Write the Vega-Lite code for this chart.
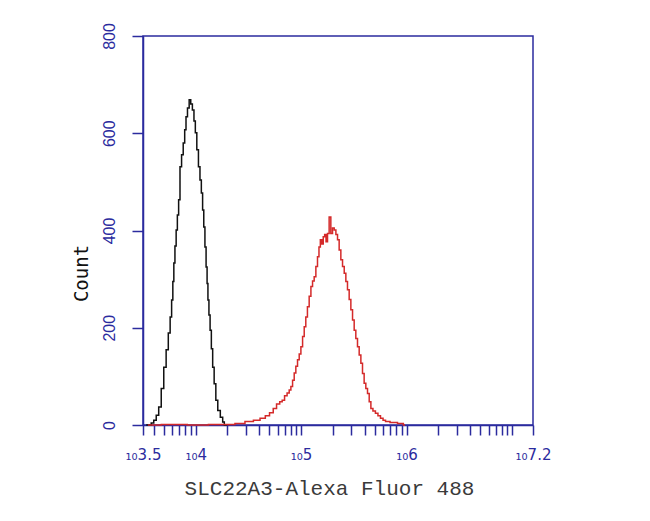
{
  "$schema": "https://vega.github.io/schema/vega-lite/v6.json",
  "width": 390,
  "height": 389,
  "autosize": {"type": "none"},
  "padding": {"left": 143, "top": 36, "right": 117, "bottom": 96},
  "background": "white",
  "config": {"view": {"stroke": "#2b2b9e", "strokeWidth": 1.5}},
  "data": {"values": [
    {"s": "a", "x": 3.53, "c": 0}, {"s": "a", "x": 3.566, "c": 0}, {"s": "a", "x": 3.59, "c": 4}, {"s": "a", "x": 3.614, "c": 10},
    {"s": "a", "x": 3.637, "c": 20}, {"s": "a", "x": 3.661, "c": 37}, {"s": "a", "x": 3.685, "c": 75}, {"s": "a", "x": 3.709, "c": 119},
    {"s": "a", "x": 3.73, "c": 155}, {"s": "a", "x": 3.75, "c": 189}, {"s": "a", "x": 3.765, "c": 222}, {"s": "a", "x": 3.778, "c": 257},
    {"s": "a", "x": 3.788, "c": 295}, {"s": "a", "x": 3.797, "c": 333}, {"s": "a", "x": 3.809, "c": 368}, {"s": "a", "x": 3.82, "c": 401},
    {"s": "a", "x": 3.832, "c": 432}, {"s": "a", "x": 3.844, "c": 463}, {"s": "a", "x": 3.858, "c": 531}, {"s": "a", "x": 3.874, "c": 556},
    {"s": "a", "x": 3.889, "c": 580}, {"s": "a", "x": 3.902, "c": 607}, {"s": "a", "x": 3.914, "c": 634}, {"s": "a", "x": 3.93, "c": 652},
    {"s": "a", "x": 3.946, "c": 669}, {"s": "a", "x": 3.96, "c": 660}, {"s": "a", "x": 3.977, "c": 648}, {"s": "a", "x": 3.99, "c": 625},
    {"s": "a", "x": 4.003, "c": 601}, {"s": "a", "x": 4.018, "c": 566}, {"s": "a", "x": 4.034, "c": 531}, {"s": "a", "x": 4.047, "c": 504},
    {"s": "a", "x": 4.06, "c": 477}, {"s": "a", "x": 4.071, "c": 442}, {"s": "a", "x": 4.082, "c": 407}, {"s": "a", "x": 4.093, "c": 366},
    {"s": "a", "x": 4.104, "c": 325}, {"s": "a", "x": 4.112, "c": 291}, {"s": "a", "x": 4.12, "c": 257}, {"s": "a", "x": 4.131, "c": 226},
    {"s": "a", "x": 4.142, "c": 195}, {"s": "a", "x": 4.155, "c": 157}, {"s": "a", "x": 4.167, "c": 119}, {"s": "a", "x": 4.183, "c": 85},
    {"s": "a", "x": 4.199, "c": 51}, {"s": "a", "x": 4.22, "c": 30}, {"s": "a", "x": 4.247, "c": 16}, {"s": "a", "x": 4.265, "c": 6},
    {"s": "a", "x": 4.278, "c": 0}, {"s": "a", "x": 4.3, "c": 0},
    {"s": "b", "x": 3.547, "c": 0}, {"s": "b", "x": 3.8, "c": 1}, {"s": "b", "x": 4.041, "c": 0}, {"s": "b", "x": 4.2, "c": 1},
    {"s": "b", "x": 4.325, "c": 1}, {"s": "b", "x": 4.42, "c": 3}, {"s": "b", "x": 4.515, "c": 7}, {"s": "b", "x": 4.58, "c": 10},
    {"s": "b", "x": 4.641, "c": 14}, {"s": "b", "x": 4.68, "c": 19}, {"s": "b", "x": 4.721, "c": 25}, {"s": "b", "x": 4.75, "c": 34},
    {"s": "b", "x": 4.784, "c": 43}, {"s": "b", "x": 4.81, "c": 48}, {"s": "b", "x": 4.831, "c": 51}, {"s": "b", "x": 4.855, "c": 60},
    {"s": "b", "x": 4.879, "c": 66}, {"s": "b", "x": 4.895, "c": 72}, {"s": "b", "x": 4.911, "c": 79}, {"s": "b", "x": 4.927, "c": 92},
    {"s": "b", "x": 4.942, "c": 107}, {"s": "b", "x": 4.958, "c": 121}, {"s": "b", "x": 4.974, "c": 134}, {"s": "b", "x": 4.99, "c": 146},
    {"s": "b", "x": 5.006, "c": 161}, {"s": "b", "x": 5.022, "c": 182}, {"s": "b", "x": 5.037, "c": 202}, {"s": "b", "x": 5.052, "c": 222},
    {"s": "b", "x": 5.068, "c": 243}, {"s": "b", "x": 5.085, "c": 265}, {"s": "b", "x": 5.101, "c": 285}, {"s": "b", "x": 5.116, "c": 296},
    {"s": "b", "x": 5.132, "c": 305}, {"s": "b", "x": 5.148, "c": 326}, {"s": "b", "x": 5.163, "c": 346}, {"s": "b", "x": 5.176, "c": 366},
    {"s": "b", "x": 5.189, "c": 381}, {"s": "b", "x": 5.203, "c": 372}, {"s": "b", "x": 5.217, "c": 387}, {"s": "b", "x": 5.23, "c": 392},
    {"s": "b", "x": 5.243, "c": 377}, {"s": "b", "x": 5.258, "c": 394}, {"s": "b", "x": 5.274, "c": 428}, {"s": "b", "x": 5.29, "c": 394},
    {"s": "b", "x": 5.306, "c": 405}, {"s": "b", "x": 5.322, "c": 401}, {"s": "b", "x": 5.338, "c": 392}, {"s": "b", "x": 5.353, "c": 381},
    {"s": "b", "x": 5.369, "c": 360}, {"s": "b", "x": 5.385, "c": 340}, {"s": "b", "x": 5.401, "c": 326}, {"s": "b", "x": 5.417, "c": 312},
    {"s": "b", "x": 5.432, "c": 295}, {"s": "b", "x": 5.448, "c": 278}, {"s": "b", "x": 5.464, "c": 258}, {"s": "b", "x": 5.48, "c": 237},
    {"s": "b", "x": 5.496, "c": 216}, {"s": "b", "x": 5.511, "c": 195}, {"s": "b", "x": 5.527, "c": 178}, {"s": "b", "x": 5.543, "c": 161},
    {"s": "b", "x": 5.559, "c": 144}, {"s": "b", "x": 5.575, "c": 127}, {"s": "b", "x": 5.59, "c": 106}, {"s": "b", "x": 5.606, "c": 86},
    {"s": "b", "x": 5.622, "c": 75}, {"s": "b", "x": 5.638, "c": 65}, {"s": "b", "x": 5.654, "c": 48}, {"s": "b", "x": 5.67, "c": 34},
    {"s": "b", "x": 5.693, "c": 29}, {"s": "b", "x": 5.717, "c": 24}, {"s": "b", "x": 5.741, "c": 19}, {"s": "b", "x": 5.765, "c": 14},
    {"s": "b", "x": 5.79, "c": 10}, {"s": "b", "x": 5.812, "c": 7}, {"s": "b", "x": 5.875, "c": 5}, {"s": "b", "x": 5.954, "c": 3},
    {"s": "b", "x": 5.986, "c": 0}
  ]},
  "mark": {"type": "line", "interpolate": "step", "strokeWidth": 1.5},
  "encoding": {
    "x": {
      "field": "x", "type": "quantitative",
      "scale": {"domain": [3.5, 7.2], "nice": false, "zero": false},
      "axis": {
        "title": "SLC22A3-Alexa Fluor 488",
        "titleFont": "Liberation Mono", "titleFontSize": 21, "titleFontWeight": "normal", "titleColor": "#3a3a3a",
        "titleX": 186, "titleAlign": "center", "titleY": 63, "titleBaseline": "middle",
        "values": [3.5, 3.60206, 3.69897, 3.77815, 3.8451, 3.90309, 3.95424, 4, 4.30103, 4.47712, 4.60206, 4.69897, 4.77815, 4.8451, 4.90309, 4.95424, 5, 5.30103, 5.47712, 5.60206, 5.69897, 5.77815, 5.8451, 5.90309, 5.95424, 6, 6.30103, 6.47712, 6.60206, 6.69897, 6.77815, 6.8451, 6.90309, 6.95424, 7, 7.2],
        "labelExpr": "indexof([3.5, 4, 5, 6, 7.2], datum.value) >= 0 ? '₁₀' + datum.value : ''",
        "labelFont": "DejaVu Sans", "labelFontSize": 15, "labelColor": "#2b2b9e",
        "labelPadding": 12, "labelOverlap": false, "labelFlush": false, "labelBound": false,
        "tickSize": 10, "tickColor": "#2b2b9e", "tickWidth": 1.5,
        "domainColor": "#2b2b9e", "domainWidth": 1.5, "grid": false
      }
    },
    "y": {
      "field": "c", "type": "quantitative",
      "scale": {"domain": [0, 800], "nice": false},
      "axis": {
        "title": "Count", "titleFont": "DejaVu Sans Mono", "titleFontSize": 19, "titleFontWeight": "normal", "titleColor": "#111111",
        "titleAngle": 270, "titleX": -62, "titleY": 237, "titleAlign": "center", "titleBaseline": "middle",
        "values": [0, 200, 400, 600, 800],
        "labelAngle": 270, "labelAlign": "center", "labelBaseline": "bottom",
        "labelFont": "Liberation Sans", "labelFontSize": 16, "labelColor": "#2b2b9e", "labelPadding": 15,
        "tickSize": 11, "tickColor": "#2b2b9e", "tickWidth": 1.5,
        "domainColor": "#2b2b9e", "domainWidth": 1.5, "grid": false
      }
    },
    "color": {
      "field": "s", "type": "nominal",
      "scale": {"domain": ["a", "b"], "range": ["#111111", "#d42a2a"]},
      "legend": null
    }
  }
}
